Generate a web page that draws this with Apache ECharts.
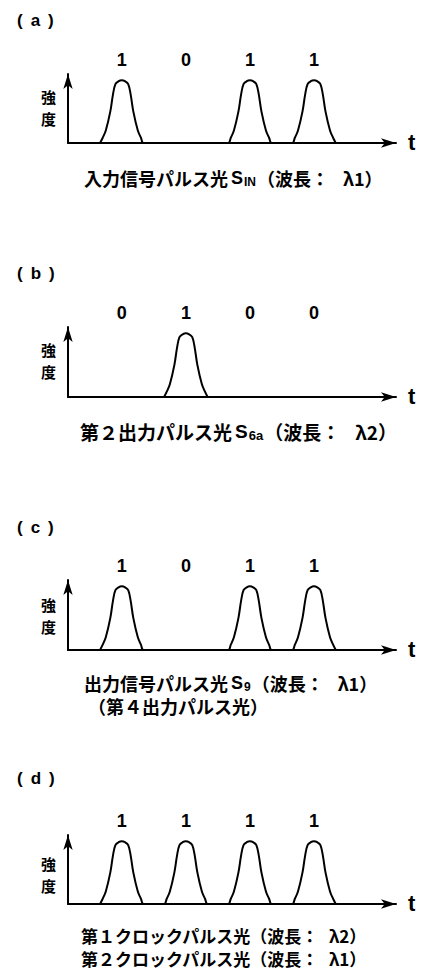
<!DOCTYPE html>
<html>
<head>
<meta charset="utf-8">
<script src="https://cdn.jsdelivr.net/npm/echarts@6/dist/echarts.min.js"></script>
<style>
html,body{margin:0;padding:0;background:#fff;}
#chart{width:430px;height:970px;}
</style>
</head>
<body>
<div id="chart"></div>
<script>
// ---- data ----
const bitSlots = [1, 2, 3, 4];
const bitsA = [1, 0, 1, 1];
const bitsB = [0, 1, 0, 0];
const bitsC = [1, 0, 1, 1];
const bitsD = [1, 1, 1, 1];
// pulse profile (offset in bit slots, relative intensity)
const pulseOffsets = [-0.34, -0.30, -0.25, -0.18, -0.137, -0.10, -0.05, 0, 0.05, 0.10, 0.137, 0.18, 0.25, 0.30, 0.34];
const pulseLevels  = [0, 0.08, 0.2, 0.5, 0.78, 0.94, 0.985, 1, 0.985, 0.94, 0.78, 0.5, 0.2, 0.08, 0];
const panelTags = ['a', 'b', 'c', 'd'];
const yLabel = '強度';
const xLabel = 't';
const labelLevel = 1.32;

const panels = [bitsA, bitsB, bitsC, bitsD];

// ---- layout ----
const gridTops = [74, 327, 580, 835];
const gridHeights = [69, 70, 70, 69];
const gridLeft = 68, gridWidth = 328;
const X_MIN = 0.16, X_MAX = 5.28, Y_MAX = 1.1;

function pulseTrain(bits) {
  const out = [];
  bits.forEach((b, i) => {
    if (!b) return;
    pulseOffsets.forEach((o, k) => out.push([bitSlots[i] + o, pulseLevels[k]]));
  });
  return out;
}

const axisLine = {
  show: true,
  symbol: ['none', 'arrow'],
  symbolSize: [7, 15],
  lineStyle: { color: '#000', width: 2 }
};

const grid = [], xAxis = [], yAxis = [], series = [];
panels.forEach((bits, p) => {
  grid.push({ left: gridLeft, top: gridTops[p], width: gridWidth, height: gridHeights[p] });
  xAxis.push({ gridIndex: p, type: 'value', min: X_MIN, max: X_MAX, axisLine: axisLine,
    axisTick: { show: false }, axisLabel: { show: false }, splitLine: { show: false } });
  yAxis.push({ gridIndex: p, type: 'value', min: 0, max: Y_MAX, axisLine: axisLine,
    axisTick: { show: false }, axisLabel: { show: false }, splitLine: { show: false } });
  series.push({
    type: 'line', xAxisIndex: p, yAxisIndex: p, data: pulseTrain(bits),
    smooth: 0.35, showSymbol: false, silent: true,
    lineStyle: { color: '#000', width: 2 }
  });
  series.push({
    type: 'custom', xAxisIndex: p, yAxisIndex: p, clip: false, silent: true,
    data: bits.map((b, i) => [bitSlots[i], labelLevel, b]),
    renderItem: (params, api) => {
      const pt = api.coord([api.value(0), api.value(1)]);
      return { type: 'text', x: pt[0], y: pt[1],
        style: { text: String(api.value(2)), font: 'bold 18px "Liberation Sans"', fill: '#000',
          align: 'center', verticalAlign: 'middle' } };
    }
  });
});

const cjk = '"Noto Sans CJK JP"';
function capRich(size, lamPad, subSize) {
  return {
    s: { fontSize: size, fontWeight: 'bold', fontFamily: 'Liberation Sans', padding: [0, 1, 0, 3], lineHeight: 16 },
    sub: { fontSize: subSize || 12, fontWeight: 'bold', fontFamily: 'Liberation Sans', padding: [8, 1, 0, 0], lineHeight: 8 },
    lam: { fontSize: size, fontWeight: 'bold', fontFamily: cjk, padding: [0, 0, 0, lamPad], lineHeight: 16 }
  };
}

function txt(text, x, y, font, rich, lh) {
  return { type: 'text', x: x, y: y, silent: true,
    style: { text: text, font: font, fill: '#000', align: 'left', verticalAlign: 'middle', rich: rich, lineHeight: lh } };
}

const graphic = [];
// panel tags
const tagY = [20, 273, 527, 778];
panelTags.forEach((t, p) => {
  graphic.push(txt('{p|(}{l|' + t + '}{p|)}', 17, tagY[p], 'bold 17px "Liberation Sans"', {
    p: { fontSize: 17, fontWeight: 'bold', fontFamily: 'Liberation Sans' },
    l: { fontSize: 17, fontWeight: 'bold', fontFamily: 'Liberation Sans', padding: [0, 8] }
  }));
});
// y labels (one character per text, stacked)
const yLabTops = [96.5, 349.5, 604, 863];
yLabTops.forEach(y => {
  yLabel.split('').forEach((ch, k) => {
    graphic.push({ type: 'text', x: 48.5, y: y + k * 22, silent: true,
      style: { text: ch, font: 'bold 15px ' + cjk, fill: '#000', align: 'center', verticalAlign: 'middle' } });
  });
});
// t labels
const baseLines = [143, 397, 650, 904];
baseLines.forEach(b => graphic.push(txt(xLabel, 408, b - 1, 'bold 22px "Liberation Sans"')));

// captions
const f = s => 'bold ' + s + 'px ' + cjk;
graphic.push(txt('入力信号パルス光{s|S}{sub|IN}（波長：{lam|λ1}）', 84, 178, f(18), capRich(18, 14), 16));
graphic.push(txt('第２出力パルス光{s|S}{sub|6a}（波長：{lam|λ2}）', 80, 431, f(19), capRich(19, 15, 13), 16));
graphic.push(txt('出力信号パルス光{s|S}{sub|9}（波長：{lam|λ1}）', 84, 683, f(18), capRich(18, 14), 16));
graphic.push(txt('（第４出力パルス光）', 88, 706, f(18), null, 16));
graphic.push(txt('第１クロックパルス光（波長：{lam|λ2}）', 81, 935, f(17), capRich(17, 10), 16));
graphic.push(txt('第２クロックパルス光（波長：{lam|λ1}）', 81, 958, f(17), capRich(17, 10), 16));

const chart = echarts.init(document.getElementById('chart'), null, { renderer: 'svg' });
chart.setOption({
  animation: false,
  backgroundColor: '#fff',
  grid: grid, xAxis: xAxis, yAxis: yAxis, series: series, graphic: graphic
});
</script>
</body>
</html>
